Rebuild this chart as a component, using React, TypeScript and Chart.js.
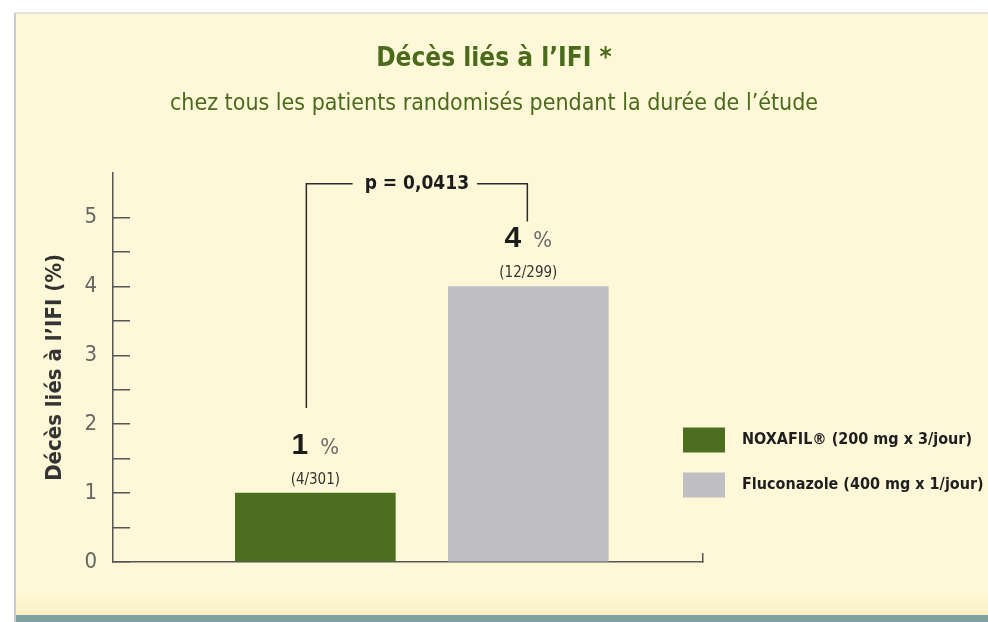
import React, { useEffect, useRef } from 'react';
import { Chart, registerables } from 'chart.js';

Chart.register(...registerables);

// ---- data ----
const categories = ['NOXAFIL® (200 mg x 3/jour)', 'Fluconazole (400 mg x 1/jour)'];
const values = [1, 4];
const valueLabels = ['1', '4'];
const countLabels = ['(4/301)', '(12/299)'];
const barColors = ['#4b6e1f', '#bfbfc4'];
const yTickValues = [0, 1, 2, 3, 4, 5];
const pValueLabel = 'p = 0,0413';
const titleText = 'Décès liés à l’IFI *';
const subtitleText = 'chez tous les patients randomisés pendant la durée de l’étude';
const yAxisTitle = 'Décès liés à l’IFI (%)';

const NARROW = '"Liberation Sans Narrow", "DejaVu Sans Condensed", "Arial Narrow", sans-serif';
const SANS = '"Liberation Sans", Arial, sans-serif';
const GREEN_TEXT = '#4a6a1c';

const annotatePlugin = {
  id: 'annotate',
  afterDatasetsDraw(chart: any) {
    const ctx: CanvasRenderingContext2D = chart.ctx;
    const area = chart.chartArea;
    const bars = chart.data.datasets.map((_: any, i: number) => chart.getDatasetMeta(i).data[0]);
    ctx.save();
    // value labels above bars
    bars.forEach((bar: any, i: number) => {
      const cx = bar.x;
      const top = bar.y;
      ctx.font = `bold 30px ${SANS}`;
      const w1 = ctx.measureText(valueLabels[i]).width;
      ctx.font = `22px ${NARROW}`;
      const w2 = ctx.measureText('%').width;
      const gap = 12;
      const start = cx - (w1 + gap + w2) / 2;
      ctx.textBaseline = 'alphabetic';
      ctx.textAlign = 'left';
      ctx.fillStyle = '#1c1c1c';
      ctx.font = `bold 30px ${SANS}`;
      ctx.fillText(valueLabels[i], start, top - 39);
      ctx.fillStyle = '#6a6a6a';
      ctx.font = `22px ${NARROW}`;
      ctx.fillText('%', start + w1 + gap, top - 39);
      ctx.textAlign = 'center';
      ctx.fillStyle = '#333';
      ctx.font = `15px ${NARROW}`;
      ctx.fillText(countLabels[i], cx, top - 9);
    });

    // p-value bracket
    const yTop = area.top + 11;
    const lx = bars[0].x - 9;
    const rx = bars[1].x - 1;
    const mid = (lx + rx) / 2;
    ctx.font = `bold 19px ${NARROW}`;
    const tw = ctx.measureText(pValueLabel).width;
    ctx.strokeStyle = '#2a2a2a';
    ctx.lineWidth = 1.5;
    ctx.beginPath();
    ctx.moveTo(lx, bars[0].y - 85);
    ctx.lineTo(lx, yTop);
    ctx.lineTo(mid - tw / 2 - 12, yTop);
    ctx.moveTo(mid + tw / 2 + 8, yTop);
    ctx.lineTo(rx, yTop);
    ctx.lineTo(rx, bars[1].y - 65);
    ctx.stroke();
    ctx.fillStyle = '#1c1c1c';
    ctx.textAlign = 'center';
    ctx.textBaseline = 'middle';
    ctx.fillText(pValueLabel, mid, yTop);

    // legend
    const lxBox = area.right - 20;
    chart.data.datasets.forEach((ds: any, i: number) => {
      const cy = 440 + i * 45;
      ctx.fillStyle = ds.backgroundColor;
      ctx.fillRect(lxBox, cy - 12.5, 42, 25);
      ctx.fillStyle = '#1f1f1f';
      ctx.font = `bold 16px ${NARROW}`;
      ctx.textAlign = 'left';
      ctx.textBaseline = 'middle';
      ctx.fillText(ds.label, lxBox + 59, cy);
    });
    ctx.restore();
  },
};

export default function App() {
  const ref = useRef<HTMLCanvasElement | null>(null);

  useEffect(() => {
    document.body.style.margin = '0';
    if (!ref.current) return;
    const chart = new Chart(ref.current, {
      type: 'bar',
      data: {
        datasets: categories.map((label, i) => ({
          label,
          data: [{ x: i + 1, y: values[i] }],
          backgroundColor: barColors[i],
          borderWidth: 0,
        })),
      },
      options: {
        animation: false,
        responsive: false,
        devicePixelRatio: 1,
        layout: { padding: 0 },
        datasets: { bar: { grouped: false, barThickness: 160 } },
        plugins: {
          legend: { display: false },
          tooltip: { enabled: false },
          title: {
            display: true,
            text: titleText,
            color: GREEN_TEXT,
            font: { family: NARROW, size: 26, weight: 'bold', lineHeight: 1.2 },
            padding: { top: 44, bottom: 15 },
          },
          subtitle: {
            display: true,
            text: subtitleText,
            color: GREEN_TEXT,
            font: { family: NARROW, size: 23, weight: 'normal', lineHeight: 1.2 },
            padding: { top: 0, bottom: 55 },
          },
        },
        scales: {
          x: {
            type: 'linear',
            offset: false,
            min: 0.05,
            max: 2.82,
            afterBuildTicks: (s: any) => {
              s.ticks = [{ value: s.max }];
            },
            afterFit: (s: any) => {
              s.height = 60;
            },
            ticks: { display: false },
            grid: {
              display: true,
              offset: false,
              drawOnChartArea: false,
              drawTicks: true,
              tickLength: -9,
              color: '#555',
              lineWidth: 1.5,
            },
            border: { display: true, color: '#555', width: 1.5 },
          },
          y: {
            min: 0,
            max: 5.65,
            afterBuildTicks: (s: any) => {
              const t: any[] = [];
              yTickValues.forEach((v, i) => {
                t.push({ value: v });
                if (i < yTickValues.length - 1) t.push({ value: (v + yTickValues[i + 1]) / 2 });
              });
              s.ticks = t;
            },
            afterFit: (s: any) => {
              s.width = 113;
            },
            ticks: {
              padding: 33,
              color: '#666',
              font: { family: NARROW, size: 22 },
              callback: (v: any) => (Number.isInteger(Number(v)) ? String(v) : ''),
            },
            grid: {
              display: true,
              drawOnChartArea: false,
              drawTicks: true,
              tickLength: -17,
              color: '#555',
              lineWidth: 1.5,
            },
            border: { display: true, color: '#555', width: 1.5 },
            title: {
              display: true,
              text: yAxisTitle,
              color: '#333',
              font: { family: NARROW, size: 22, weight: 'bold', lineHeight: 1.2 },
              padding: { top: 42, bottom: 0 },
            },
          },
          yRight: {
            position: 'right',
            display: true,
            afterFit: (s: any) => {
              s.width = 285;
            },
            ticks: { display: false },
            grid: { display: false },
            border: { display: false },
          },
        },
      },
      plugins: [annotatePlugin],
    } as any);
    return () => chart.destroy();
  }, []);

  return (
    <div style={{ position: 'fixed', left: 0, top: 0, width: 988, height: 622, background: '#ffffff', overflow: 'hidden' }}>
      <div
        style={{
          position: 'absolute',
          left: 14,
          top: 12,
          width: 974,
          height: 610,
          boxSizing: 'border-box',
          background: 'linear-gradient(to bottom, #fef8d8 0%, #fef8d8 95%, #fbefc2 99%)',
          borderLeft: '2px solid #c9cdd2',
          borderTop: '2px solid #e4e2da',
        }}
      />
      <div style={{ position: 'absolute', left: 16, top: 615, width: 972, height: 7, background: '#7fa19f' }} />
      <canvas ref={ref} width={988} height={622} style={{ position: 'absolute', left: 0, top: 0, width: 988, height: 622 }} />
    </div>
  );
}
